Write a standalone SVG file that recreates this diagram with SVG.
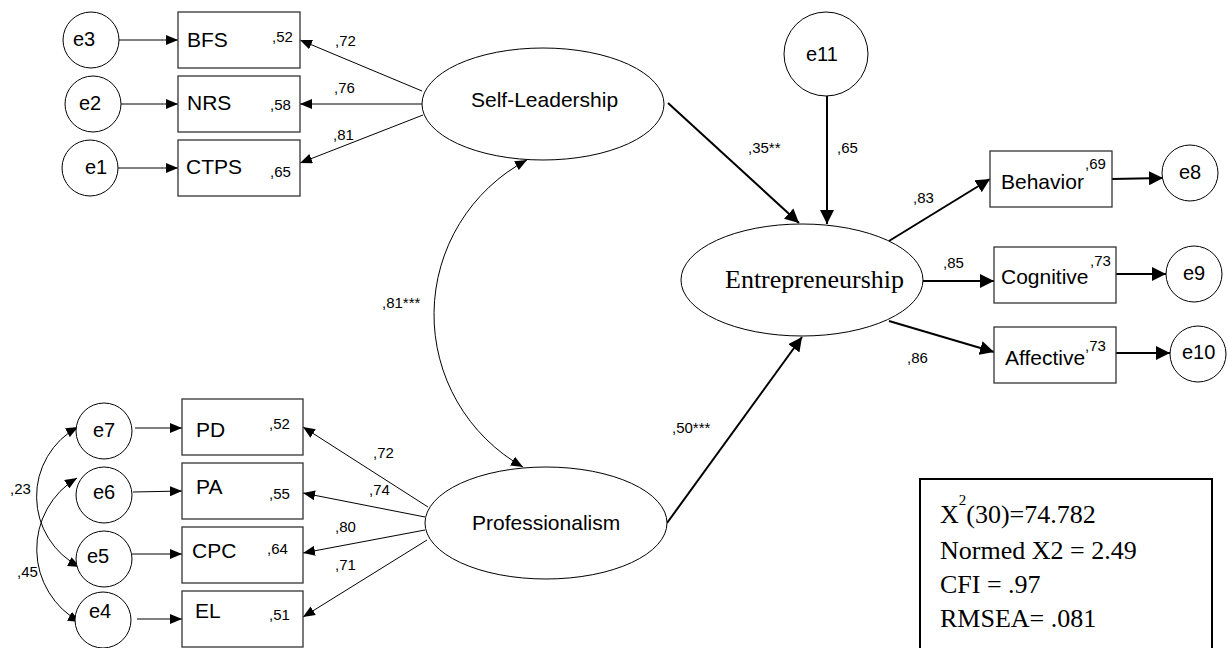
<svg xmlns="http://www.w3.org/2000/svg" width="1228" height="648" viewBox="0 0 1228 648">
<style>
.sans{font-family:"Liberation Sans",Arial,sans-serif;fill:#000}
.serif{font-family:"Liberation Serif","Times New Roman",serif;fill:#000}
.lbl{font-size:21px}
.err{font-size:20px}
.lat{font-size:21px}
.num{font-size:15px}
.fit{font-size:26px}
.box{fill:#fff;stroke:#333;stroke-width:1.3}
.circ{fill:#fff;stroke:#000;stroke-width:1}
.ell{fill:#fff;stroke:#000;stroke-width:1}
.thin{fill:none;stroke:#000;stroke-width:1}
.thick{fill:none;stroke:#000;stroke-width:2}
</style>
<defs>
<marker id="s" viewBox="0 0 12 10" refX="12" refY="5" markerWidth="12" markerHeight="10" markerUnits="userSpaceOnUse" orient="auto-start-reverse"><path d="M0,0L12,5L0,10z" fill="#000"/></marker>
<marker id="b" viewBox="0 0 14 14" refX="14" refY="7" markerWidth="14" markerHeight="14" markerUnits="userSpaceOnUse" orient="auto"><path d="M0,0L14,7L0,14z" fill="#000"/></marker>
</defs>
<rect width="1228" height="648" fill="#fff"/>

<g id="connectors">
<!-- error -> indicator (top) -->
<line class="thin" x1="119" y1="40" x2="178" y2="40" marker-end="url(#s)"/>
<line class="thin" x1="121" y1="104" x2="178" y2="104" marker-end="url(#s)"/>
<line class="thin" x1="118" y1="168" x2="178" y2="168" marker-end="url(#s)"/>
<!-- Self-Leadership loadings -->
<line class="thin" x1="422" y1="91" x2="300" y2="40" marker-end="url(#s)"/>
<line class="thin" x1="422" y1="104" x2="300" y2="104" marker-end="url(#s)"/>
<line class="thin" x1="423" y1="115" x2="300" y2="163" marker-end="url(#s)"/>
<!-- error -> indicator (bottom) -->
<line class="thin" x1="135" y1="428" x2="182" y2="428" marker-end="url(#s)"/>
<line class="thin" x1="133" y1="492" x2="182" y2="491" marker-end="url(#s)"/>
<line class="thin" x1="132" y1="554" x2="182" y2="554" marker-end="url(#s)"/>
<line class="thin" x1="137" y1="619" x2="182" y2="619" marker-end="url(#s)"/>
<!-- Professionalism loadings -->
<line class="thin" x1="428" y1="507" x2="303" y2="427" marker-end="url(#s)"/>
<line class="thin" x1="425" y1="517" x2="303" y2="493" marker-end="url(#s)"/>
<line class="thin" x1="425" y1="530" x2="303" y2="553" marker-end="url(#s)"/>
<line class="thin" x1="427" y1="540" x2="303" y2="617" marker-end="url(#s)"/>
<!-- covariances -->
<path class="thin" d="M527,160 A175,175 0 0 0 523,467" marker-start="url(#s)" marker-end="url(#s)"/>
<path class="thin" d="M78,427 A79,79 0 0 0 80,567" marker-start="url(#s)" marker-end="url(#s)"/>
<path class="thin" d="M77,478 A83,83 0 0 0 80,622" marker-start="url(#s)" marker-end="url(#s)"/>
<!-- structural paths -->
<line class="thick" x1="668" y1="103" x2="799" y2="223" marker-end="url(#b)"/>
<line class="thick" x1="827" y1="96" x2="827" y2="224" marker-end="url(#b)"/>
<line class="thick" x1="667" y1="523" x2="802" y2="337" marker-end="url(#b)"/>
<!-- Entrepreneurship loadings -->
<line class="thick" x1="889" y1="241" x2="990" y2="179" marker-end="url(#b)"/>
<line class="thick" x1="923" y1="281" x2="994" y2="281" marker-end="url(#b)"/>
<line class="thick" x1="889" y1="321" x2="994" y2="352" marker-end="url(#b)"/>
<!-- indicator -> error (right) -->
<line class="thick" x1="1112" y1="179" x2="1163" y2="178" marker-end="url(#b)"/>
<line class="thick" x1="1116" y1="274" x2="1166" y2="274" marker-end="url(#b)"/>
<line class="thick" x1="1116" y1="353" x2="1170" y2="353" marker-end="url(#b)"/>
<!-- path labels -->
<g class="sans num">
<text x="335" y="46">,72</text>
<text x="334" y="93">,76</text>
<text x="333" y="140">,81</text>
<text x="373" y="458">,72</text>
<text x="369" y="495">,74</text>
<text x="335" y="532">,80</text>
<text x="335" y="570">,71</text>
<text x="382" y="308">,81***</text>
<text x="10" y="494">,23</text>
<text x="17" y="577">,45</text>
<text x="748" y="153">,35**</text>
<text x="837" y="153">,65</text>
<text x="672" y="433">,50***</text>
<text x="913" y="203">,83</text>
<text x="943" y="268">,85</text>
<text x="907" y="363">,86</text>
</g>
</g>

<g id="e3"><circle class="circ" cx="91" cy="40" r="28"/><text class="sans err" x="73" y="46">e3</text></g>
<g id="e2"><circle class="circ" cx="93" cy="104" r="28"/><text class="sans err" x="79" y="110">e2</text></g>
<g id="e1"><circle class="circ" cx="90" cy="168" r="28"/><text class="sans err" x="85" y="174">e1</text></g>

<g id="BFS"><rect class="box" x="178" y="12" width="122" height="56"/><text class="sans lbl" x="187" y="47">BFS</text><text class="sans num" x="272" y="42">,52</text></g>
<g id="NRS"><rect class="box" x="178" y="76" width="122" height="56"/><text class="sans lbl" x="187" y="110">NRS</text><text class="sans num" x="270" y="110">,58</text></g>
<g id="CTPS"><rect class="box" x="178" y="140" width="122" height="56"/><text class="sans lbl" x="186" y="174">CTPS</text><text class="sans num" x="270" y="177">,65</text></g>

<g id="SelfLeadership"><ellipse class="ell" cx="543" cy="104" rx="121" ry="56"/><text class="sans lat" x="471" y="107">Self-Leadership</text></g>
<g id="Professionalism"><ellipse class="ell" cx="546" cy="523" rx="121" ry="56"/><text class="sans lat" x="472" y="530">Professionalism</text></g>
<g id="Entrepreneurship"><ellipse class="ell" cx="802" cy="280" rx="121" ry="56"/><text class="serif fit" x="725" y="288">Entrepreneurship</text></g>

<g id="e11"><circle class="circ" cx="826" cy="54" r="42"/><text class="sans err" x="806" y="61">e11</text></g>

<g id="Behavior"><rect class="box" x="990" y="151" width="122" height="56"/><text class="sans lbl" x="1001" y="189">Behavior</text><text class="sans num" x="1085" y="169">,69</text></g>
<g id="Cognitive"><rect class="box" x="994" y="247" width="122" height="56"/><text class="sans lbl" x="1001" y="284">Cognitive</text><text class="sans num" x="1090" y="266">,73</text></g>
<g id="Affective"><rect class="box" x="994" y="327" width="122" height="56"/><text class="sans lbl" x="1005" y="365">Affective</text><text class="sans num" x="1085" y="351">,73</text></g>

<g id="e8"><circle class="circ" cx="1190" cy="173" r="28"/><text class="sans err" x="1179" y="179">e8</text></g>
<g id="e9"><circle class="circ" cx="1194" cy="274" r="28"/><text class="sans err" x="1183" y="280">e9</text></g>
<g id="e10"><circle class="circ" cx="1198" cy="354" r="28"/><text class="sans err" x="1182" y="359">e10</text></g>

<g id="e7"><circle class="circ" cx="104" cy="431" r="28"/><text class="sans err" x="93" y="437">e7</text></g>
<g id="e6"><circle class="circ" cx="104" cy="495" r="28"/><text class="sans err" x="93" y="499">e6</text></g>
<g id="e5"><circle class="circ" cx="104" cy="559" r="28"/><text class="sans err" x="87" y="563">e5</text></g>
<g id="e4"><circle class="circ" cx="103" cy="620" r="28"/><text class="sans err" x="89" y="618">e4</text></g>

<g id="PD"><rect class="box" x="182" y="399" width="121" height="56"/><text class="sans lbl" x="196" y="437">PD</text><text class="sans num" x="269" y="429">,52</text></g>
<g id="PA"><rect class="box" x="182" y="463" width="121" height="56"/><text class="sans lbl" x="196" y="494">PA</text><text class="sans num" x="269" y="499">,55</text></g>
<g id="CPC"><rect class="box" x="182" y="527" width="121" height="56"/><text class="sans lbl" x="192" y="558">CPC</text><text class="sans num" x="267" y="554">,64</text></g>
<g id="EL"><rect class="box" x="182" y="591" width="121" height="56"/><text class="sans lbl" x="195" y="618">EL</text><text class="sans num" x="269" y="620">,51</text></g>

<g id="fit">
<rect x="920" y="479" width="292" height="175" fill="#fff" stroke="#000" stroke-width="2"/>
<text class="serif fit" x="940" y="523">X<tspan font-size="15" dy="-18">2</tspan><tspan dy="18">(30)=74.782</tspan></text>
<text class="serif fit" x="940" y="559">Normed X2 = 2.49</text>
<text class="serif fit" x="940" y="593">CFI = .97</text>
<text class="serif fit" x="940" y="627">RMSEA= .081</text>
</g>
</svg>
